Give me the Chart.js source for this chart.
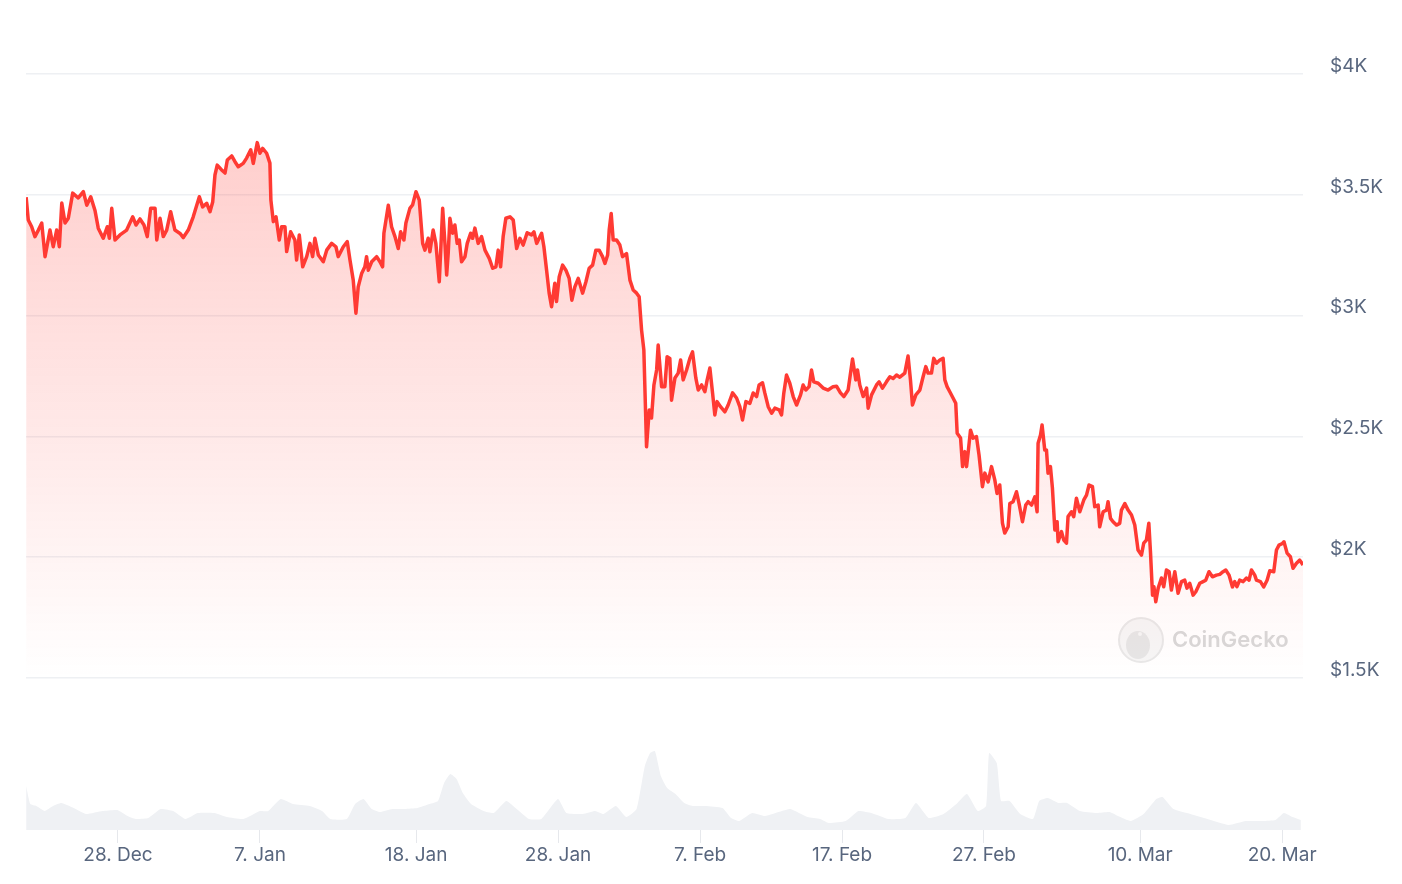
<!DOCTYPE html>
<html>
<head>
<meta charset="utf-8">
<title>Price chart</title>
<script src="https://cdn.jsdelivr.net/npm/chart.js@4/dist/chart.umd.min.js"></script>
<style>
    body { margin: 0; background: #ffffff; }
    #priceChart { display: block; }
</style>
</head>
<body>
<canvas id="priceChart" width="1402" height="884"></canvas>
<script>
// Price samples: days counted from 28 Dec (00:00), price in USD
const priceDays = [
    -6.47, -6.32, -6.08, -5.85, -5.61, -5.37, -5.14, -4.79, -4.56, -4.32, -4.13, -3.96, -3.73, -3.50, -3.19, -2.80,
    -2.44, -2.20, -1.92, -1.62, -1.39, -1.04, -0.75, -0.61, -0.44, -0.21, 0.14, 0.61, 1.04, 1.27, 1.55, 1.83,
    2.06, 2.30, 2.61, 2.73, 2.96, 3.19, 3.43, 3.71, 4.01, 4.37, 4.60, 4.95, 5.30, 5.73, 5.96, 6.25,
    6.48, 6.67, 6.83, 6.99, 7.30, 7.54, 7.70, 8.01, 8.24, 8.47, 8.82, 9.06, 9.35, 9.53, 9.81, 10.00,
    10.19, 10.47, 10.70, 10.77, 10.94, 11.13, 11.36, 11.53, 11.76, 11.88, 12.16, 12.46, 12.58, 12.77, 13.01, 13.29,
    13.52, 13.71, 13.87, 14.11, 14.46, 14.70, 15.05, 15.35, 15.51, 15.87, 16.15, 16.34, 16.57, 16.76, 16.92, 17.16,
    17.39, 17.51, 17.63, 17.87, 18.22, 18.45, 18.64, 18.73, 19.04, 19.27, 19.51, 19.74, 19.91, 20.14, 20.28, 20.56,
    20.75, 20.99, 21.22, 21.46, 21.62, 21.85, 21.97, 22.20, 22.39, 22.63, 22.87, 23.03, 23.15, 23.26, 23.38, 23.57,
    23.73, 23.89, 24.04, 24.20, 24.44, 24.60, 24.84, 24.98, 25.14, 25.37, 25.61, 25.85, 26.15, 26.39, 26.62, 26.78,
    26.95, 27.13, 27.32, 27.61, 27.84, 28.08, 28.31, 28.54, 28.82, 29.13, 29.30, 29.49, 29.84, 30.00, 30.19, 30.37,
    30.54, 30.77, 30.89, 31.08, 31.32, 31.55, 31.78, 31.97, 32.18, 32.42, 32.73, 32.96, 33.19, 33.43, 33.66, 33.89,
    34.13, 34.30, 34.49, 34.60, 34.74, 34.88, 35.12, 35.35, 35.54, 35.82, 36.06, 36.29, 36.53, 36.71, 36.88, 37.04,
    37.23, 37.42, 37.58, 37.75, 37.94, 38.05, 38.29, 38.52, 38.68, 38.87, 38.99, 39.23, 39.46, 39.63, 39.81, 40.05,
    40.28, 40.47, 40.70, 40.87, 41.11, 41.34, 41.50, 41.69, 41.88, 42.04, 42.20, 42.44, 42.75, 42.98, 43.29, 43.57,
    43.80, 43.99, 44.23, 44.51, 44.74, 44.98, 45.16, 45.40, 45.56, 45.80, 46.04, 46.27, 46.57, 46.74, 46.90, 47.09,
    47.32, 47.56, 47.80, 48.08, 48.26, 48.45, 48.68, 48.85, 49.01, 49.32, 49.67, 50.02, 50.37, 50.61, 50.89, 51.13,
    51.43, 51.74, 51.97, 52.09, 52.25, 52.49, 52.73, 52.84, 53.08, 53.43, 53.61, 53.85, 54.13, 54.37, 54.60, 54.84,
    55.07, 55.42, 55.65, 55.82, 55.96, 56.20, 56.48, 56.71, 56.90, 57.06, 57.30, 57.46, 57.65, 57.89, 58.12, 58.24,
    58.40, 58.59, 58.82, 59.01, 59.11, 59.35, 59.49, 59.65, 59.77, 59.88, 60.05, 60.23, 60.47, 60.65, 60.89, 61.06,
    61.29, 61.53, 61.76, 61.92, 62.11, 62.30, 62.46, 62.70, 62.82, 63.05, 63.29, 63.47, 63.71, 63.94, 64.11, 64.35,
    64.58, 64.74, 64.81, 64.98, 65.09, 65.28, 65.40, 65.51, 65.68, 65.82, 65.99, 66.15, 66.22, 66.46, 66.62, 66.81,
    66.92, 67.16, 67.32, 67.51, 67.75, 68.03, 68.22, 68.40, 68.64, 68.80, 69.04, 69.15, 69.39, 69.63, 69.74, 69.91,
    70.09, 70.33, 70.56, 70.68, 70.92, 71.15, 71.39, 71.62, 71.85, 72.09, 72.25, 72.44, 72.61, 72.73, 72.87, 72.97,
    73.10, 73.27, 73.50, 73.66, 73.85, 74.04, 74.20, 74.44, 74.67, 74.91, 75.14, 75.30, 75.49, 75.73, 75.92, 76.20,
    76.43, 76.62, 76.85, 77.09, 77.37, 77.61, 77.84, 78.03, 78.26, 78.50, 78.66, 78.82, 79.01, 79.25, 79.49, 79.67,
    79.84, 80.07, 80.19, 80.47, 80.70, 80.94, 81.13, 81.41, 81.60, 81.78, 82.02, 82.13, 82.35, 82.58, 82.77, 83.01,
    83.24, 83.47
];
const priceUsd = [
    3490, 3396, 3368, 3327, 3354, 3383, 3244, 3354, 3285, 3354, 3285, 3466, 3383, 3403, 3507, 3487,
    3513, 3457, 3492, 3435, 3362, 3320, 3368, 3320, 3444, 3313, 3334, 3354, 3409, 3375, 3400, 3375,
    3327, 3444, 3444, 3313, 3403, 3327, 3354, 3430, 3354, 3340, 3323, 3354, 3409, 3492, 3450, 3465,
    3430, 3470, 3582, 3623, 3603, 3590, 3644, 3661, 3637, 3616, 3630, 3652, 3686, 3630, 3716, 3672,
    3692, 3672, 3631, 3478, 3389, 3409, 3313, 3368, 3368, 3265, 3347, 3313, 3230, 3334, 3202, 3244,
    3299, 3244, 3320, 3251, 3223, 3271, 3299, 3285, 3244, 3285, 3306, 3230, 3147, 3010, 3119, 3174,
    3202, 3244, 3188, 3223, 3244, 3223, 3202, 3341, 3457, 3368, 3327, 3278, 3347, 3313, 3383, 3444,
    3458, 3513, 3478, 3299, 3271, 3320, 3264, 3354, 3299, 3140, 3444, 3299, 3168, 3259, 3403, 3341,
    3375, 3299, 3313, 3223, 3244, 3299, 3341, 3320, 3362, 3299, 3327, 3271, 3237, 3196, 3202, 3271,
    3202, 3327, 3403, 3409, 3396, 3278, 3320, 3292, 3343, 3334, 3347, 3299, 3341, 3285, 3188, 3093,
    3037, 3134, 3058, 3161, 3209, 3188, 3154, 3064, 3119, 3154, 3093, 3140, 3196, 3209, 3271, 3271,
    3244, 3216, 3251, 3354, 3423, 3313, 3313, 3292, 3244, 3257, 3147, 3106, 3093, 3078, 2940, 2858,
    2457, 2609, 2576, 2713, 2775, 2878, 2706, 2706, 2830, 2823, 2650, 2742, 2762, 2816, 2734, 2775,
    2823, 2850, 2742, 2692, 2713, 2685, 2734, 2783, 2680, 2589, 2644, 2623, 2602, 2630, 2680, 2659,
    2623, 2568, 2644, 2637, 2680, 2665, 2713, 2722, 2680, 2623, 2596, 2617, 2610, 2589, 2680, 2754,
    2720, 2665, 2630, 2672, 2713, 2692, 2706, 2775, 2726, 2720, 2700, 2692, 2706, 2708, 2680, 2665,
    2692, 2820, 2734, 2775, 2713, 2665, 2700, 2617, 2672, 2713, 2726, 2700, 2726, 2747, 2740, 2754,
    2745, 2762, 2833, 2734, 2630, 2672, 2692, 2747, 2789, 2762, 2762, 2823, 2803, 2816, 2823, 2734,
    2706, 2685, 2659, 2637, 2513, 2493, 2375, 2437, 2375, 2431, 2526, 2493, 2499, 2423, 2292, 2348,
    2312, 2375, 2320, 2264, 2299, 2141, 2100, 2126, 2222, 2230, 2271, 2222, 2147, 2216, 2230, 2216,
    2250, 2188, 2472, 2506, 2547, 2444, 2444, 2348, 2375, 2286, 2113, 2147, 2064, 2106, 2071, 2058,
    2168, 2188, 2168, 2244, 2188, 2237, 2257, 2299, 2292, 2209, 2216, 2126, 2188, 2195, 2230, 2161,
    2147, 2133, 2140, 2195, 2222, 2195, 2175, 2133, 2030, 2009, 2058, 2071, 2141, 2017, 1843, 1878,
    1816, 1872, 1914, 1878, 1947, 1940, 1864, 1940, 1851, 1899, 1905, 1872, 1892, 1843, 1857, 1892,
    1899, 1905, 1940, 1919, 1926, 1929, 1940, 1947, 1926, 1877, 1899, 1878, 1905, 1899, 1914, 1905,
    1947, 1926, 1905, 1899, 1877, 1905, 1944, 1940, 2030, 2050, 2057, 2064, 2017, 2002, 1954, 1975,
    1988, 1968
];

// Trading volume samples (days from 28 Dec, volume in $B)
const volumeDays = [
    -6.47, -6.18, -5.75, -5.16, -4.58, -3.99, -3.12, -2.25, -1.08, -0.06, 0.67, 1.25, 2.13, 3.00, 3.88, 4.75,
    5.63, 6.80, 7.67, 8.83, 10.00, 10.58, 11.46, 12.33, 13.50, 14.37, 14.96, 16.12, 16.70, 17.29, 17.87, 18.46,
    19.33, 20.20, 21.08, 21.95, 22.54, 22.97, 23.41, 23.85, 24.29, 24.87, 25.75, 26.47, 27.35, 28.08, 28.95, 29.82,
    30.99, 31.58, 32.74, 33.61, 34.20, 35.07, 35.80, 36.53, 37.11, 37.48, 37.82, 38.24, 38.68, 39.27, 39.88, 40.48,
    41.37, 42.58, 43.18, 43.77, 44.67, 45.57, 46.77, 47.37, 48.57, 49.46, 50.06, 51.26, 52.16, 53.06, 54.26, 55.46,
    56.21, 57.11, 58.15, 59.06, 59.80, 60.56, 61.15, 61.36, 61.90, 62.20, 62.80, 63.55, 64.45, 64.89, 65.49, 66.25,
    66.85, 67.75, 68.94, 69.85, 70.44, 71.34, 72.24, 73.14, 73.58, 74.34, 75.54, 76.73, 78.23, 79.43, 80.63, 81.53,
    82.13, 82.73, 83.32
];
const volumeUsdB = [
    4.4, 2.6, 2.4, 1.9, 2.4, 2.7, 2.2, 1.6, 1.9, 2.0, 1.4, 1.1, 1.2, 2.1, 1.9, 1.1,
    1.7, 1.7, 1.3, 1.1, 1.9, 1.9, 3.1, 2.6, 2.4, 1.9, 1.1, 1.1, 2.6, 3.1, 2.1, 1.8,
    2.1, 2.1, 2.2, 2.6, 2.9, 4.7, 5.6, 5.1, 3.7, 2.6, 1.9, 1.7, 2.9, 2.1, 1.1, 1.1,
    3.1, 1.7, 1.6, 1.9, 1.6, 2.4, 1.3, 2.1, 6.4, 7.7, 7.9, 5.4, 4.2, 3.6, 2.7, 2.4,
    2.4, 2.2, 1.2, 0.9, 1.7, 1.4, 1.9, 2.1, 1.3, 1.1, 0.7, 0.9, 1.9, 1.7, 1.1, 1.2,
    2.7, 1.2, 1.6, 2.6, 3.6, 1.9, 2.4, 7.7, 6.7, 2.9, 2.9, 1.6, 1.1, 2.9, 3.2, 2.7,
    2.7, 1.9, 1.7, 1.8, 1.4, 0.9, 1.6, 3.1, 3.3, 2.1, 1.6, 1.1, 0.5, 0.9, 0.9, 1.0,
    1.7, 1.3, 1.0
];

// Axis ticks
const tickDays = [0, 10, 21, 31, 41, 51, 61, 72, 82];
const tickLabels = ['28. Dec', '7. Jan', '18. Jan', '28. Jan', '7. Feb', '17. Feb', '27. Feb', '10. Mar', '20. Mar'];
const priceTicks = [1500, 2000, 2500, 3000, 3500, 4000];

const textColor = '#58667e';
const lineColor = '#ff3a33';

// Watermark in the lower right corner of the price area
const watermark = {
    id: 'watermark',
    beforeDatasetsDraw(chart) {
        const { ctx, chartArea, scales } = chart;
        const cy = scales.y.getPixelForValue(1657);
        const cx = chartArea.right - 162;
        ctx.save();
        ctx.beginPath();
        ctx.arc(cx, cy, 22, 0, Math.PI * 2);
        ctx.fillStyle = '#f6f6f6';
        ctx.fill();
        ctx.lineWidth = 2;
        ctx.strokeStyle = '#e8e8e8';
        ctx.stroke();
        ctx.beginPath();
        ctx.ellipse(cx - 3, cy + 5, 12, 14, 0, 0, Math.PI * 2);
        ctx.fillStyle = '#e6e6e6';
        ctx.fill();
        ctx.beginPath();
        ctx.arc(cx - 1, cy - 6, 2, 0, Math.PI * 2);
        ctx.fillStyle = '#f6f6f6';
        ctx.fill();
        ctx.fillStyle = '#d8d8d8';
        ctx.font = '600 22px Inter, "Noto Sans", sans-serif';
        ctx.textBaseline = 'middle';
        ctx.fillText('CoinGecko', cx + 31, cy);
        ctx.restore();
    }
};

function createChart() {
    const ctx = document.getElementById('priceChart').getContext('2d');
    const priceData = priceDays.map((d, i) => ({ x: d, y: priceUsd[i] }));
    const volumeData = volumeDays.map((d, i) => ({ x: d, y: volumeUsdB[i] }));

    new Chart(ctx, {
        type: 'line',
        data: {
            datasets: [{
                label: 'Price',
                data: priceData,
                yAxisID: 'y',
                borderColor: lineColor,
                borderWidth: 3.5,
                borderJoinStyle: 'round',
                pointRadius: 0,
                tension: 0,
                fill: { value: 1500 },
                backgroundColor: (context) => {
                    const chart = context.chart;
                    const area = chart.chartArea;
                    if (!area) return 'rgba(255,58,51,0.15)';
                    const g = chart.ctx.createLinearGradient(0, area.top, 0, chart.scales.y.getPixelForValue(1500));
                    g.addColorStop(0, 'rgba(255,58,51,0.28)');
                    g.addColorStop(1, 'rgba(255,58,51,0)');
                    return g;
                },
                order: 1
            }, {
                label: 'Volume',
                data: volumeData,
                yAxisID: 'v',
                borderWidth: 0,
                borderColor: 'rgba(0,0,0,0)',
                backgroundColor: '#eff1f4',
                pointRadius: 0,
                tension: 0.15,
                fill: 'origin',
                order: 2
            }]
        },
        options: {
            responsive: false,
            animation: false,
            layout: { padding: { left: 26, top: 74, right: 0, bottom: 0 } },
            plugins: {
                legend: { display: false },
                tooltip: { enabled: false }
            },
            scales: {
                x: {
                    type: 'linear',
                    min: -6.48,
                    max: 83.47,
                    afterBuildTicks: (axis) => { axis.ticks = tickDays.map(v => ({ value: v })); },
                    afterFit: (axis) => { axis.height = 54; },
                    ticks: {
                        autoSkip: false,
                        maxRotation: 0,
                        padding: 1,
                        color: textColor,
                        font: { family: 'Inter', size: 19 },
                        callback: (v) => tickLabels[tickDays.indexOf(v)]
                    },
                    grid: {
                        drawOnChartArea: false,
                        drawTicks: true,
                        tickLength: 13,
                        color: '#e6e8ec'
                    },
                    border: { display: false }
                },
                y: {
                    position: 'right',
                    min: 871,
                    max: 4000,
                    afterBuildTicks: (axis) => { axis.ticks = priceTicks.map(v => ({ value: v })); },
                    afterFit: (axis) => { axis.width = 99; },
                    ticks: {
                        padding: 27,
                        labelOffset: -8,
                        color: textColor,
                        font: { family: 'Inter', size: 19 },
                        callback: (v) => '$' + (v / 1000) + 'K'
                    },
                    grid: {
                        drawTicks: false,
                        color: '#eef0f3',
                        lineWidth: 1.5
                    },
                    border: { display: false }
                },
                v: {
                    display: false,
                    min: 0,
                    max: 75.6
                }
            }
        },
        plugins: [watermark]
    });
}

document.addEventListener('DOMContentLoaded', () => {
    createChart();
});
</script>
</body>
</html>
